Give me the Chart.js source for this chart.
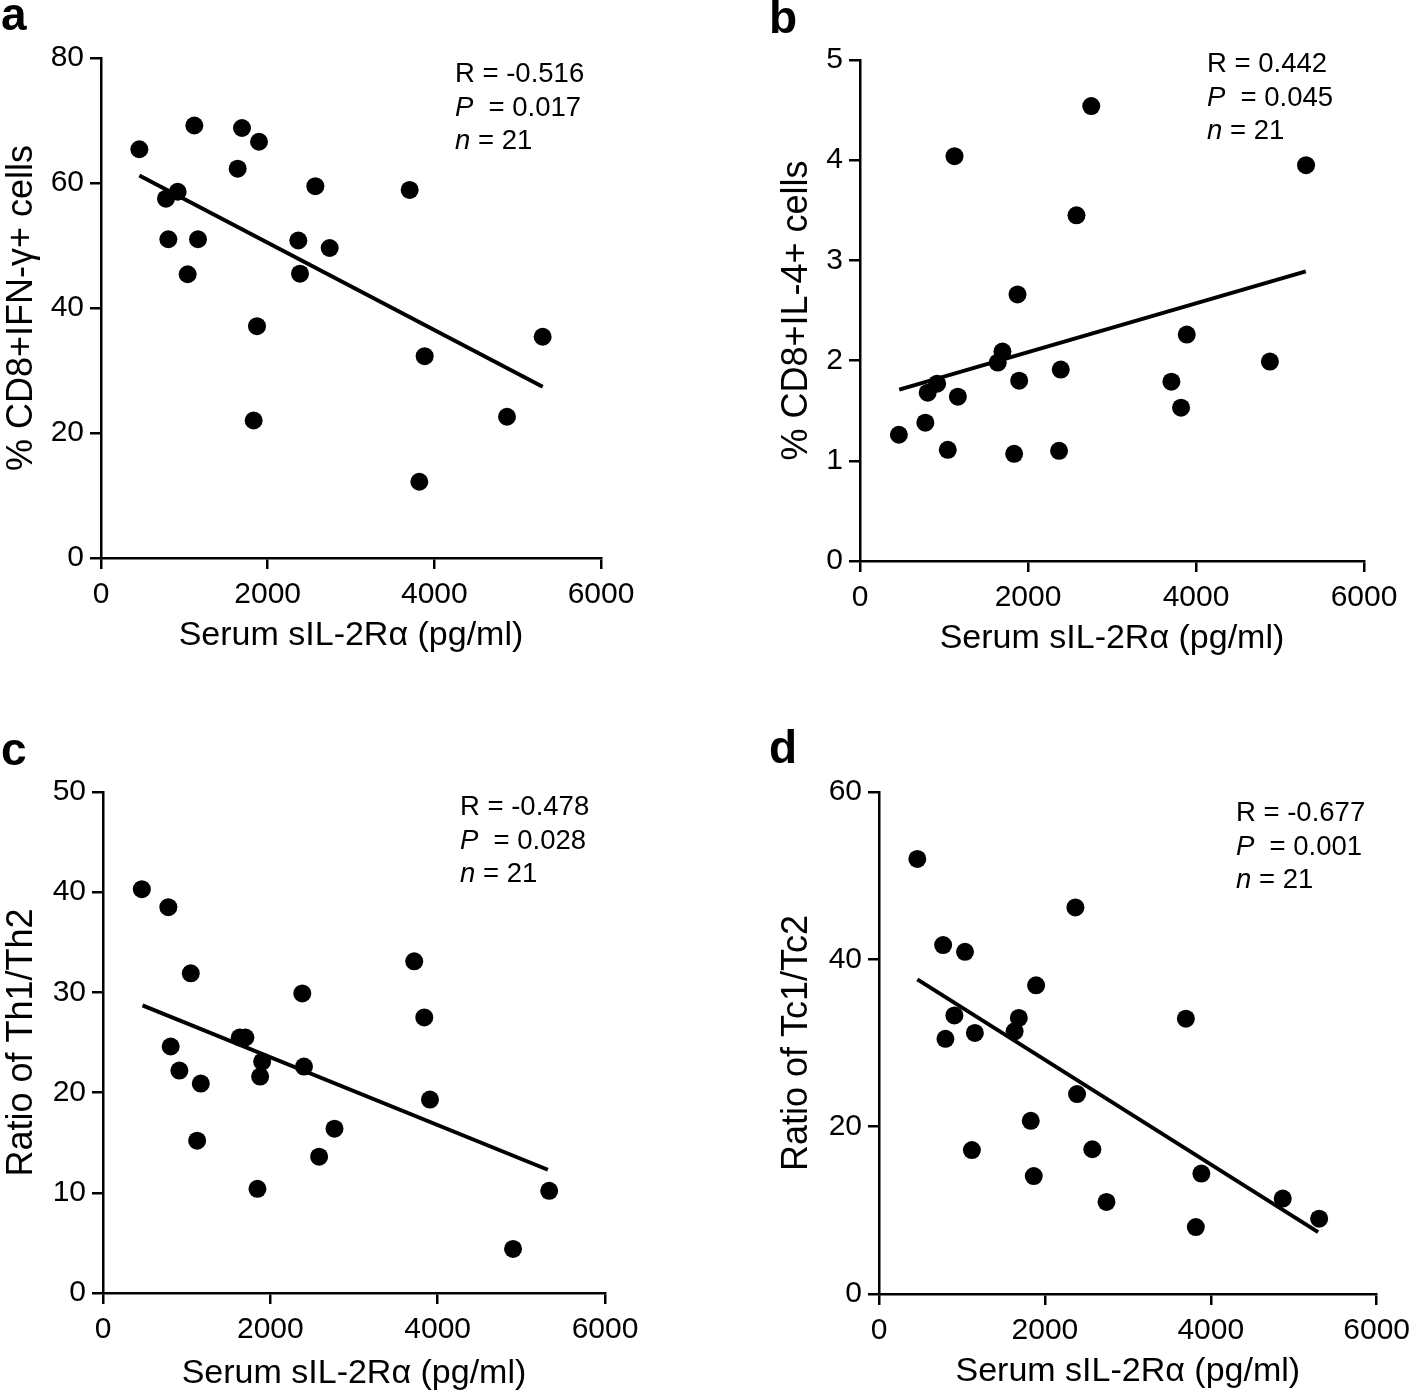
<!DOCTYPE html>
<html><head><meta charset="utf-8">
<script src="https://cdn.jsdelivr.net/npm/chart.js@4.4.1/dist/chart.umd.min.js"></script>
<style>
html,body{margin:0;padding:0;background:#fff;width:1418px;height:1399px;overflow:hidden;}
.p{position:absolute;}
canvas{display:block;}
</style></head><body>
<div class="p" style="left:0;top:0;"><canvas id="ca" width="709" height="699"></canvas></div>
<div class="p" style="left:709px;top:0;"><canvas id="cb" width="709" height="699"></canvas></div>
<div class="p" style="left:0;top:699px;"><canvas id="cc" width="709" height="700"></canvas></div>
<div class="p" style="left:709px;top:699px;"><canvas id="cd" width="709" height="700"></canvas></div>
<script>
// ---------- shared ----------
const xTicks = [0, 2000, 4000, 6000];
const xTitle = 'Serum sIL-2R\u03b1 (pg/ml)';

// ---------- panel a ----------
const aX = [460,1120,1692,1896,1640,920,780,2572,3704,808,1164,2368,2744,1040,2388,1872,3884,5300,1832,4872,3820];
const aY = [65.4,69.2,68.8,66.6,62.3,58.6,57.5,59.5,58.9,51.0,51.0,50.8,49.6,45.4,45.5,37.1,32.3,35.4,22.0,22.6,12.2];
const aLineX = [460, 5300];
const aLineY = [61.2, 27.4];
const aYTicks = [0, 20, 40, 60, 80];
const aYTitle = '% CD8+IFN-\u03b3+ cells';
const aStats = ['-0.516', '0.017', '21'];

// ---------- panel b ----------
const bX = [2753,1125,5310,2577,1875,3890,1696,1640,4880,2390,1895,3707,918,806,1165,3822,778,463,1045,1835,2370];
const bY = [4.54,4.04,3.95,3.45,2.66,2.26,2.09,1.98,1.99,1.91,1.80,1.79,1.77,1.68,1.64,1.53,1.38,1.26,1.11,1.07,1.10];
const bLineX = [467, 5307];
const bLineY = [1.71, 2.89];
const bYTicks = [0, 1, 2, 3, 4, 5];
const bYTitle = '% CD8+IL-4+ cells';
const bStats = ['0.442', '0.045', '21'];

// ---------- panel c ----------
const cX = [464,781,1049,3720,2382,3840,1634,1702,809,1902,2402,913,1878,1169,3908,2767,1125,2583,1846,5333,4901];
const cY = [40.3,38.5,31.9,33.1,29.9,27.5,25.5,25.5,24.6,23.1,22.6,22.2,21.6,20.9,19.3,16.4,15.2,13.6,10.4,10.2,4.4];
const cLineX = [472, 5317];
const cLineY = [28.7, 12.3];
const cYTicks = [0, 10, 20, 30, 40, 50];
const cYTitle = 'Ratio of Th1/Th2';
const cStats = ['-0.478', '0.028', '21'];

// ---------- panel d ----------
const dX = [462,2368,773,1037,1894,3700,909,1686,1635,1156,801,2388,1830,1120,2572,3887,1866,4868,2743,5307,3820];
const dY = [52.0,46.2,41.7,40.9,36.9,32.9,33.3,33.0,31.4,31.2,30.5,23.9,20.7,17.2,17.3,14.4,14.1,11.4,11.0,9.0,8.0];
const dLineX = [462, 5295];
const dLineY = [37.6, 7.4];
const dYTicks = [0, 20, 40, 60];
const dYTitle = 'Ratio of Tc1/Tc2';
const dStats = ['-0.677', '0.001', '21'];

// ---------- styling / layout ----------
const FAM = '"Liberation Sans", Arial, Helvetica, sans-serif';
const tickFont = {family: FAM, size: 30};
const xTitleFont = {family: FAM, size: 34};
const yTitleFont = {family: FAM, size: 36};
const STAT_SIZE = 27.5;
const LETTER_SIZE = 46;

const annot = {
  id: 'annot',
  afterDraw(chart, args, o) {
    const ctx = chart.ctx;
    ctx.save();
    ctx.fillStyle = '#000';
    ctx.textBaseline = 'alphabetic';
    ctx.textAlign = 'left';
    ctx.font = 'bold ' + LETTER_SIZE + 'px ' + FAM;
    ctx.fillText(o.letter, o.letterX, o.letterY);
    const reg = STAT_SIZE + 'px ' + FAM;
    const ita = 'italic ' + STAT_SIZE + 'px ' + FAM;
    const rows = [['', 'R = ' + o.stats[0]], ['P', '  = ' + o.stats[1]], ['n', ' = ' + o.stats[2]]];
    rows.forEach((r, i) => {
      let x = o.statX;
      const y = o.statY + i * 33.5;
      if (r[0]) {
        ctx.font = ita;
        ctx.fillText(r[0], x, y);
        x += ctx.measureText(r[0]).width;
      }
      ctx.font = reg;
      ctx.fillText(r[1], x, y);
    });
    ctx.restore();
  }
};

function build(id, d, L) {
  const pts = d.x.map((v, i) => ({x: v, y: d.y[i]}));
  const fit = d.lx.map((v, i) => ({x: v, y: d.ly[i]}));
  const yt = d.yTicks;
  const axisCommon = {
    type: 'linear',
    grid: {display: true, drawOnChartArea: false, drawTicks: true, tickLength: 11, color: '#000', lineWidth: 2.5},
    border: {display: true, color: '#000', width: 2.5},
  };
  new Chart(document.getElementById(id), {
    type: 'scatter',
    data: {datasets: [
      {type: 'line', data: fit, borderColor: '#000', borderWidth: 4, pointRadius: 0, fill: false, tension: 0, order: 1, clip: false},
      {type: 'scatter', data: pts, backgroundColor: '#000', borderColor: '#000', borderWidth: 0, pointRadius: 9, pointHoverRadius: 9, order: 0, clip: false}
    ]},
    options: {
      responsive: false, animation: false, devicePixelRatio: 1, events: [],
      layout: {padding: {left: 0, top: L.top, right: L.right, bottom: 0}},
      plugins: {legend: {display: false}, tooltip: {enabled: false}, annot: L.annot},
      scales: {
        x: Object.assign({}, axisCommon, {
          min: xTicks[0], max: xTicks[xTicks.length - 1],
          ticks: {stepSize: xTicks[1] - xTicks[0], font: tickFont, color: '#000', padding: 8, maxRotation: 0, autoSkip: false, callback: v => String(v)},
          title: {display: true, text: xTitle, font: xTitleFont, color: '#000', padding: {top: 0, bottom: L.xTitlePad}},
          afterFit(s) { s.height = L.xH; }
        }),
        y: Object.assign({}, axisCommon, {
          min: yt[0], max: yt[yt.length - 1],
          ticks: {stepSize: yt[1] - yt[0], font: tickFont, color: '#000', padding: 6, autoSkip: false, callback: v => String(v)},
          title: {display: true, text: d.yTitle, font: yTitleFont, color: '#000', padding: {top: L.yTitlePad, bottom: 0}},
          afterFit(s) { s.width = L.yW; }
        })
      }
    },
    plugins: [annot]
  });
}

const xh = xTitleFont.size * 1.2 / 2;
const yh = yTitleFont.size * 1.2 / 2;

build('ca', {x: aX, y: aY, lx: aLineX, ly: aLineY, yTicks: aYTicks, yTitle: aYTitle},
  {top: 58, right: 108, yW: 101, xH: 141, xTitlePad: 699 - xh - 636, yTitlePad: 22 - yh,
   annot: {letter: 'a', letterX: 1, letterY: 30, statX: 455, statY: 82, stats: aStats}});
build('cb', {x: bX, y: bY, lx: bLineX, ly: bLineY, yTicks: bYTicks, yTitle: bYTitle},
  {top: 60, right: 54, yW: 151, xH: 138, xTitlePad: 699 - xh - 639, yTitlePad: 88 - yh,
   annot: {letter: 'b', letterX: 60, letterY: 33, statX: 498, statY: 72, stats: bStats}});
build('cc', {x: cX, y: cY, lx: cLineX, ly: cLineY, yTicks: cYTicks, yTitle: cYTitle},
  {top: 93, right: 104, yW: 103, xH: 106, xTitlePad: 700 - xh - 675, yTitlePad: 22 - yh,
   annot: {letter: 'c', letterX: 1, letterY: 66, statX: 460, statY: 116, stats: cStats}});
build('cd', {x: dX, y: dY, lx: dLineX, ly: dLineY, yTicks: dYTicks, yTitle: dYTitle},
  {top: 93, right: 35, yW: 170, xH: 105, xTitlePad: 700 - xh - 673, yTitlePad: 88 - yh,
   annot: {letter: 'd', letterX: 60, letterY: 64, statX: 527, statY: 122, stats: dStats}});
</script>
</body></html>
